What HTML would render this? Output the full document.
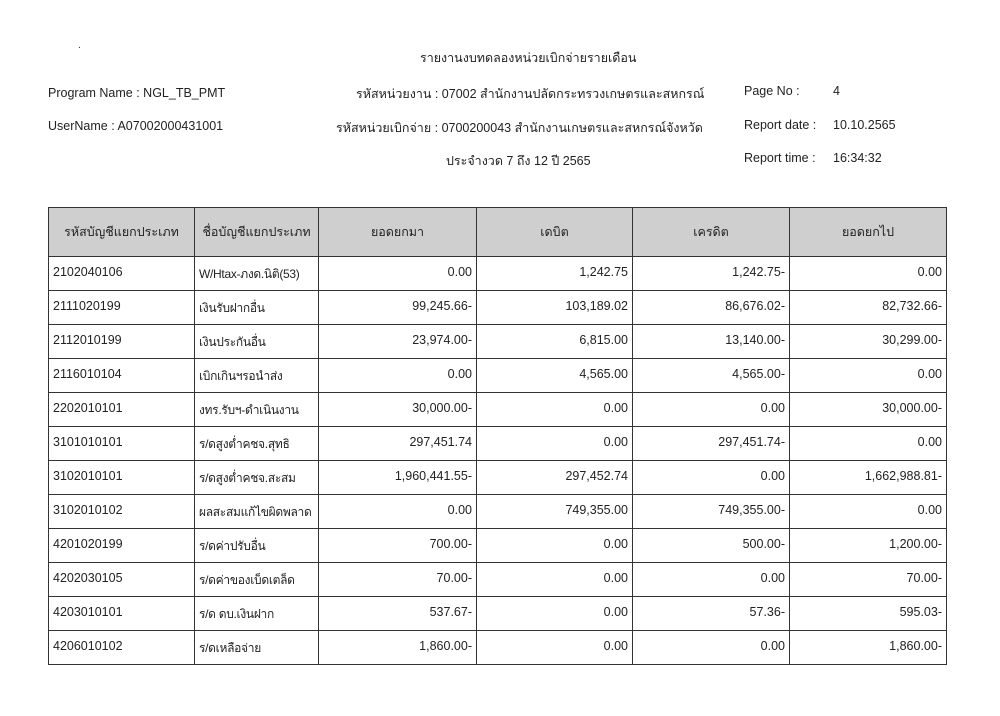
<!DOCTYPE html>
<html><head><meta charset="utf-8"><style>
body{margin:0;width:1000px;height:716px;background:#fff;position:relative;overflow:hidden;font-family:"Liberation Sans","DejaVu Sans","Noto Sans CJK SC",sans-serif;color:#222;font-size:12.5px}
.t{position:absolute;white-space:nowrap}
table{position:absolute;left:48px;top:207px;width:898px;border-collapse:collapse;table-layout:fixed}
td,th{border:1.5px solid #333;padding:0 4px;height:32px;font-weight:normal;font-size:12.5px;overflow:hidden;white-space:nowrap}
th{background:#cfcfcf;height:48px;text-align:center}
td{vertical-align:top;padding-top:8px;height:25px}
td.n{text-align:right}
td.c2{font-size:12px;letter-spacing:-0.3px}
</style></head><body>
<div class="t" style="left:78px;top:40px;font-size:10px">.</div>
<div class="t" style="left:420px;top:48px">รายงานงบทดลองหน่วยเบิกจ่ายรายเดือน</div>
<div class="t" style="left:48px;top:86px">Program Name : NGL_TB_PMT</div>
<div class="t" style="left:356px;top:84px">รหัสหน่วยงาน : 07002 สำนักงานปลัดกระทรวงเกษตรและสหกรณ์</div>
<div class="t" style="left:744px;top:84px">Page No :</div>
<div class="t" style="left:833px;top:84px">4</div>
<div class="t" style="left:48px;top:119px">UserName : A07002000431001</div>
<div class="t" style="left:336px;top:118px">รหัสหน่วยเบิกจ่าย : 0700200043 สำนักงานเกษตรและสหกรณ์จังหวัด</div>
<div class="t" style="left:744px;top:118px">Report date :</div>
<div class="t" style="left:833px;top:118px">10.10.2565</div>
<div class="t" style="left:446px;top:151px">ประจำงวด 7 ถึง 12 ปี 2565</div>
<div class="t" style="left:744px;top:151px">Report time :</div>
<div class="t" style="left:833px;top:151px">16:34:32</div>
<table>
<colgroup><col style="width:146px"><col style="width:124px"><col style="width:158px"><col style="width:156px"><col style="width:157px"><col style="width:157px"></colgroup>
<tr><th>รหัสบัญชีแยกประเภท</th><th>ชื่อบัญชีแยกประเภท</th><th>ยอดยกมา</th><th>เดบิต</th><th>เครดิต</th><th>ยอดยกไป</th></tr>
<tr><td>2102040106</td><td class="c2">W/Htax-ภงด.นิติ(53)</td><td class="n">0.00</td><td class="n">1,242.75</td><td class="n">1,242.75-</td><td class="n">0.00</td></tr>
<tr><td>2111020199</td><td class="c2">เงินรับฝากอื่น</td><td class="n">99,245.66-</td><td class="n">103,189.02</td><td class="n">86,676.02-</td><td class="n">82,732.66-</td></tr>
<tr><td>2112010199</td><td class="c2">เงินประกันอื่น</td><td class="n">23,974.00-</td><td class="n">6,815.00</td><td class="n">13,140.00-</td><td class="n">30,299.00-</td></tr>
<tr><td>2116010104</td><td class="c2">เบิกเกินฯรอนำส่ง</td><td class="n">0.00</td><td class="n">4,565.00</td><td class="n">4,565.00-</td><td class="n">0.00</td></tr>
<tr><td>2202010101</td><td class="c2">งทร.รับฯ-ดำเนินงาน</td><td class="n">30,000.00-</td><td class="n">0.00</td><td class="n">0.00</td><td class="n">30,000.00-</td></tr>
<tr><td>3101010101</td><td class="c2">ร/ดสูงต่ำคชจ.สุทธิ</td><td class="n">297,451.74</td><td class="n">0.00</td><td class="n">297,451.74-</td><td class="n">0.00</td></tr>
<tr><td>3102010101</td><td class="c2">ร/ดสูงต่ำคชจ.สะสม</td><td class="n">1,960,441.55-</td><td class="n">297,452.74</td><td class="n">0.00</td><td class="n">1,662,988.81-</td></tr>
<tr><td>3102010102</td><td class="c2">ผลสะสมแก้ไขผิดพลาด</td><td class="n">0.00</td><td class="n">749,355.00</td><td class="n">749,355.00-</td><td class="n">0.00</td></tr>
<tr><td>4201020199</td><td class="c2">ร/ดค่าปรับอื่น</td><td class="n">700.00-</td><td class="n">0.00</td><td class="n">500.00-</td><td class="n">1,200.00-</td></tr>
<tr><td>4202030105</td><td class="c2">ร/ดค่าของเบ็ดเตล็ด</td><td class="n">70.00-</td><td class="n">0.00</td><td class="n">0.00</td><td class="n">70.00-</td></tr>
<tr><td>4203010101</td><td class="c2">ร/ด ดบ.เงินฝาก</td><td class="n">537.67-</td><td class="n">0.00</td><td class="n">57.36-</td><td class="n">595.03-</td></tr>
<tr><td>4206010102</td><td class="c2">ร/ดเหลือจ่าย</td><td class="n">1,860.00-</td><td class="n">0.00</td><td class="n">0.00</td><td class="n">1,860.00-</td></tr>
</table>
</body></html>
